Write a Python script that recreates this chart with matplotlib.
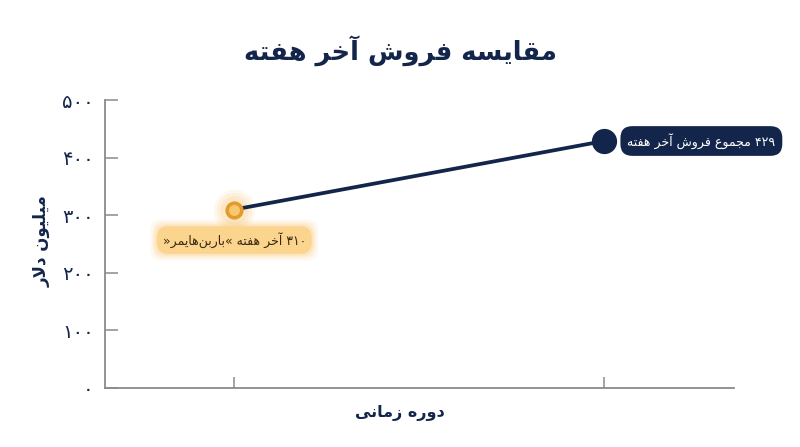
import matplotlib
matplotlib.use('Agg')
import matplotlib.pyplot as plt

# ---------------- data ----------------
periods = ['آخر هفته «باربن‌هایمر»', 'مجموع فروش آخر هفته']
values = [310, 429]
yticks = [0, 100, 200, 300, 400, 500]
title = 'مقایسه فروش آخر هفته'
xlabel = 'دوره زمانی'
ylabel = 'میلیون دلار'

# ---------------- simple Arabic-script shaping ----------------
FORMS = {
    '\u0622': ('\uFE81', '\uFE82', None, None),
    '\u0627': ('\uFE8D', '\uFE8E', None, None),
    '\u0628': ('\uFE8F', '\uFE90', '\uFE91', '\uFE92'),
    '\u062A': ('\uFE95', '\uFE96', '\uFE97', '\uFE98'),
    '\u062C': ('\uFE9D', '\uFE9E', '\uFE9F', '\uFEA0'),
    '\u062E': ('\uFEA5', '\uFEA6', '\uFEA7', '\uFEA8'),
    '\u062F': ('\uFEA9', '\uFEAA', None, None),
    '\u0631': ('\uFEAD', '\uFEAE', None, None),
    '\u0632': ('\uFEAF', '\uFEB0', None, None),
    '\u0633': ('\uFEB1', '\uFEB2', '\uFEB3', '\uFEB4'),
    '\u0634': ('\uFEB5', '\uFEB6', '\uFEB7', '\uFEB8'),
    '\u0639': ('\uFEC9', '\uFECA', '\uFECB', '\uFECC'),
    '\u0641': ('\uFED1', '\uFED2', '\uFED3', '\uFED4'),
    '\u0642': ('\uFED5', '\uFED6', '\uFED7', '\uFED8'),
    '\u0644': ('\uFEDD', '\uFEDE', '\uFEDF', '\uFEE0'),
    '\u0645': ('\uFEE1', '\uFEE2', '\uFEE3', '\uFEE4'),
    '\u0646': ('\uFEE5', '\uFEE6', '\uFEE7', '\uFEE8'),
    '\u0647': ('\uFEE9', '\uFEEA', '\uFEEB', '\uFEEC'),
    '\u0648': ('\uFEED', '\uFEEE', None, None),
    '\u06CC': ('\uFBFC', '\uFBFD', '\uFBFE', '\uFBFF'),
}


def _dual(c):
    return c in FORMS and FORMS[c][2] is not None


def shape(s):
    chars = list(s)
    n = len(chars)
    res = []
    i = 0
    while i < n:
        c = chars[i]
        if c not in FORMS:
            if c != '\u200c':
                res.append(c)
            i += 1
            continue
        prev = chars[i - 1] if i > 0 else None
        jp = prev is not None and _dual(prev)
        if c == '\u0644' and i + 1 < n and chars[i + 1] in ('\u0627', '\u0622'):
            lig = ('\uFEFB', '\uFEFC') if chars[i + 1] == '\u0627' else ('\uFEF5', '\uFEF6')
            res.append(lig[1] if jp else lig[0])
            i += 2
            continue
        nxt = chars[i + 1] if i + 1 < n else None
        jn = _dual(c) and nxt is not None and nxt in FORMS
        iso, fin, ini, med = FORMS[c]
        if jp and jn:
            g = med
        elif jp:
            g = fin
        elif jn:
            g = ini
        else:
            g = iso
        res.append(g)
        i += 1
    return res


def rtl(s):
    tokens = []
    for ch in shape(s):
        if ch.isdigit() and tokens and tokens[-1][0].isdigit():
            tokens[-1] += ch
        else:
            tokens.append(ch)
    tokens.reverse()
    return ''.join(tokens)


FA_DIGITS = str.maketrans('0123456789', '۰۱۲۳۴۵۶۷۸۹')


def fa(v):
    return str(v).translate(FA_DIGITS)


# ---------------- plot ----------------
NAVY = '#13254a'
ORANGE = '#e39b2c'
ORANGE_FILL = '#f8c870'
BOX_ORANGE = '#fbd48e'
GRAY = '#8a8a8a'

plt.rcParams['font.family'] = ['DejaVu Sans']

fig = plt.figure(figsize=(8, 4.47), dpi=100)
ax = fig.add_axes([0.131, 0.132, 0.786, 0.644])

x = list(range(len(values)))
ax.plot(x, values, color=NAVY, lw=2.7, solid_capstyle='round', zorder=3)

# glow for first point
for s, a in [(900, 0.10), (650, 0.14), (420, 0.18)]:
    ax.scatter([x[0]], [values[0]], s=s, color='#f9c36a', alpha=a, lw=0, zorder=2)
ax.scatter([x[0]], [values[0]], s=110, color=ORANGE_FILL, edgecolor=ORANGE, lw=2.6, zorder=4)
ax.scatter([x[1]], [values[1]], s=330, color=NAVY, lw=0, zorder=4)

# label for first point with glow
lab0 = rtl(fa(values[0]) + ' ' + periods[0])
for pad, a in [(1.0, 0.10), (0.8, 0.16), (0.62, 0.22)]:
    ax.annotate(lab0, (x[0], values[0]), xytext=(0, -22), textcoords='offset points',
                ha='center', va='center', fontsize=9, color='none', zorder=4,
                bbox=dict(boxstyle=f'round,pad={pad},rounding_size=0.9', fc='#f9c36a',
                          ec='none', alpha=a))
ax.annotate(lab0, (x[0], values[0]), xytext=(0, -22), textcoords='offset points',
            ha='center', va='center', fontsize=9, color='#3a2a10', zorder=5,
            bbox=dict(boxstyle='round,pad=0.46,rounding_size=0.9', fc=BOX_ORANGE, ec='none'))

lab1 = rtl(fa(values[1]) + ' ' + periods[1])
ax.annotate(lab1, (x[1], values[1]), xytext=(70, 0), textcoords='offset points',
            ha='center', va='center', fontsize=9, color='white', zorder=5,
            bbox=dict(boxstyle='round,pad=0.55,rounding_size=0.95', fc=NAVY, ec='none'))

ax.set_xlim(-0.35, 1.35)
ax.set_ylim(0, 500)
ax.set_yticks(yticks)
ax.set_yticklabels([fa(t) for t in yticks])
ax.set_xticks(x)
ax.set_xticklabels(['', ''])

for sp in ['top', 'right']:
    ax.spines[sp].set_visible(False)
for sp in ['left', 'bottom']:
    ax.spines[sp].set_color(GRAY)
    ax.spines[sp].set_linewidth(1.3)
ax.tick_params(axis='y', direction='in', length=9, width=1.1, color=GRAY,
               labelcolor=NAVY, labelsize=14, pad=8)
ax.tick_params(axis='x', direction='in', length=8, width=1.1, color=GRAY)

fig.text(0.5, 0.888, rtl(title), ha='center', va='center', fontsize=18.5,
         fontweight='bold', color=NAVY)
fig.text(0.5, 0.075, rtl(xlabel), ha='center', va='center', fontsize=11.5,
         fontweight='bold', color=NAVY)
fig.text(0.052, 0.46, rtl(ylabel), ha='center', va='center', fontsize=12,
         fontweight='bold', color=NAVY, rotation=90)

fig.savefig('out.png', dpi=100, facecolor='white')
